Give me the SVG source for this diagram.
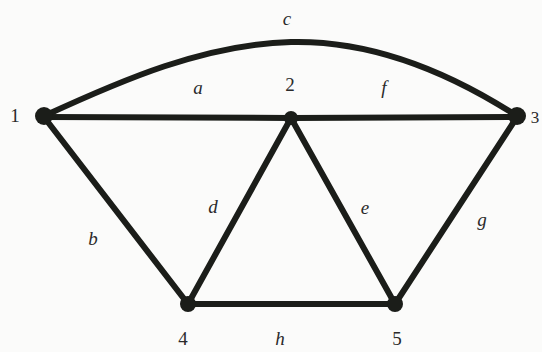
<svg xmlns="http://www.w3.org/2000/svg" width="542" height="352" viewBox="0 0 542 352">
<style>
.e{stroke:#1b1d19;stroke-width:6;fill:none;stroke-linecap:round}
.n{fill:#1b1d19}
.t{font-family:"Liberation Serif","DejaVu Serif",serif;font-size:19px;fill:#2a2a2a;text-anchor:middle}
.i{font-style:italic}
</style>
<rect width="542" height="352" fill="#fbfbfa"/>
<g id="connectors">
<path class="e" d="M44,116 C122,80 205,44 291,42 C375,40 455,76 517,116"/>
<line class="e" x1="44" y1="117" x2="291" y2="118"/>
<line class="e" x1="291" y1="118" x2="517" y2="117"/>
<line class="e" x1="44" y1="117" x2="188" y2="304"/>
<line class="e" x1="188" y1="304" x2="291" y2="118"/>
<line class="e" x1="291" y1="118" x2="395" y2="304"/>
<line class="e" x1="395" y1="304" x2="517" y2="117"/>
<line class="e" x1="188" y1="304" x2="395" y2="304"/>
<text class="t i" x="287" y="25">c</text>
<text class="t i" x="198" y="94">a</text>
<text class="t i" x="384" y="94">f</text>
<text class="t i" x="93" y="245">b</text>
<text class="t i" x="213" y="213">d</text>
<text class="t i" x="365" y="214">e</text>
<text class="t i" x="482" y="226">g</text>
<text class="t i" x="280" y="345">h</text>
</g>
<g id="node1"><circle class="n" cx="44" cy="116" r="9"/><text class="t" x="15" y="122">1</text></g>
<g id="node2"><circle class="n" cx="291" cy="118" r="7"/><text class="t" x="290" y="91">2</text></g>
<g id="node3"><circle class="n" cx="517" cy="116" r="9"/><text class="t" x="535" y="123" style="font-size:17px">3</text></g>
<g id="node4"><circle class="n" cx="188" cy="304" r="8"/><text class="t" x="183" y="345">4</text></g>
<g id="node5"><circle class="n" cx="395" cy="304" r="8"/><text class="t" x="397" y="345">5</text></g>
</svg>
